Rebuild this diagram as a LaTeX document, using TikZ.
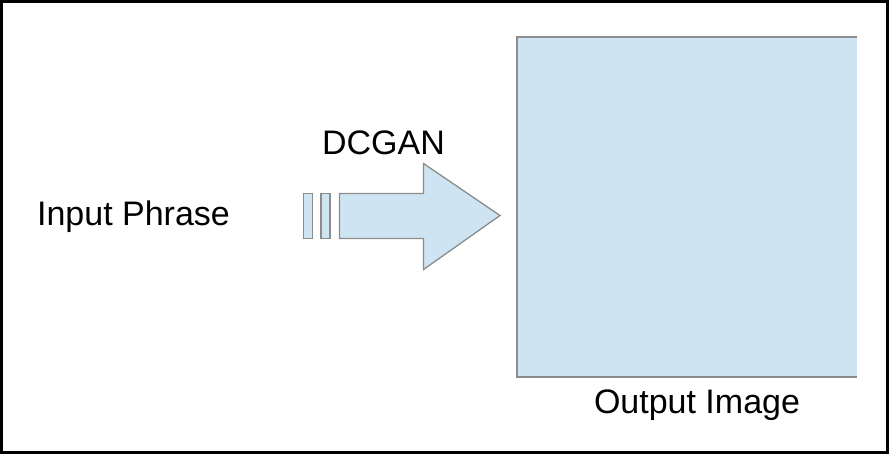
\documentclass[tikz,border=0pt]{standalone}
\usepackage{fontspec}
\setmainfont{Liberation Sans}
\definecolor{boxfill}{RGB}{207,228,242}
\definecolor{boxline}{RGB}{140,140,140}
\begin{document}
\begin{tikzpicture}[x=1pt,y=-1pt,
  lbl/.style={inner sep=0pt,anchor=base,font=\fontsize{34}{40}\selectfont},
  shapeline/.style={draw=boxline,fill=boxfill,line width=1.3pt,line join=miter}]
\useasboundingbox (0,0) rectangle (889,454);
\draw[line width=2.6pt] (1.3,1.3) rectangle (887.4,452.4);
% output image box (no right border)
\fill[boxfill] (517,37) rectangle (857,377);
\draw[boxline,line width=1.6pt] (857,37) -- (517,37) -- (517,377) -- (857,377);
\coordinate (img) at (687,207);
% arrow
\draw[shapeline] (303.5,193.5) rectangle (312.5,238.5);
\draw[shapeline] (321,193.5) rectangle (330,238.5);
\draw[shapeline] (339.5,193.5) -- (423.5,193.5) -- (423.5,163.5) -- (500,215.5)
   -- (423.5,269.5) -- (423.5,238.5) -- (339.5,238.5) -- cycle;
\node[lbl] (gan) at (383.5,154.5) {DCGAN};
\node[lbl] (inp) at (133.5,226) {Input Phrase};
\node[lbl] (out) at (697,413) {Output Image};
\end{tikzpicture}
\end{document}
